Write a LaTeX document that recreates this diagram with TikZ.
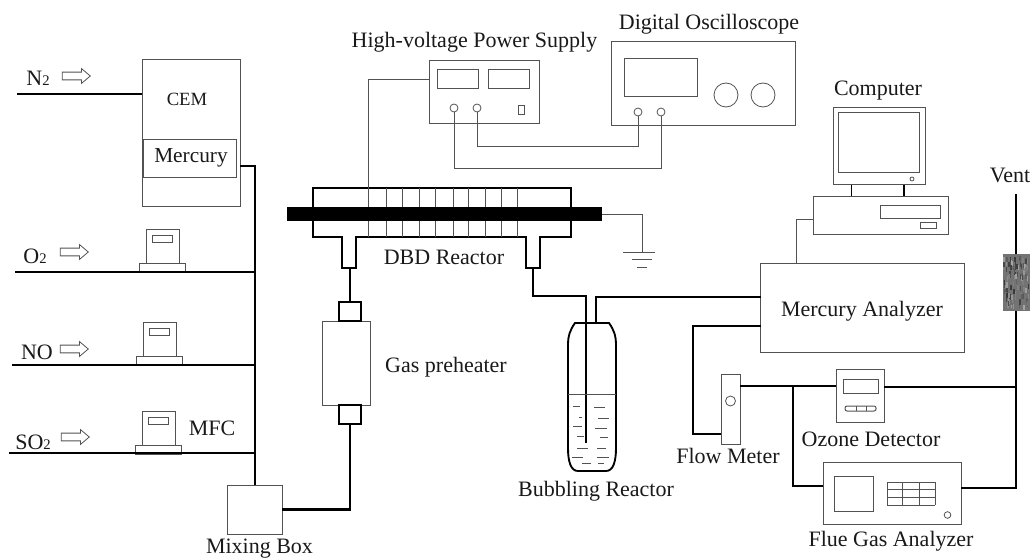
\documentclass[tikz,border=0pt]{standalone}
\usepackage{fontspec}
\setmainfont{Liberation Serif}
\usetikzlibrary{shapes.arrows}

\colorlet{edge}{black!68}
\tikzset{
  pipe/.style={line width=1.8pt,black},
  wire/.style={line width=0.75pt,edge},
  panel/.style={draw=edge,line width=0.75pt,rectangle,inner sep=0pt,outer sep=0pt},
  tube/.style={draw=black,line width=1.5pt,rectangle,inner sep=0pt,outer sep=0pt},
  dial/.style={draw=edge,line width=0.6pt,circle,inner sep=0pt,outer sep=0pt},
  gasarrow/.style={draw=edge,line width=0.6pt,single arrow,inner xsep=0pt,inner ysep=2.6pt,outer sep=0pt,
    minimum height=21pt,single arrow head extend=2.7pt,
    single arrow tip angle=80,single arrow head indent=0pt},
  tag/.style={font=\fontsize{16.5}{18}\selectfont,inner sep=0pt,text=black!90}
}
\newcommand{\unitbox}[6][panel]{%
  \node[#1,minimum width={((#5)-(#3))*0.75pt},minimum height={((#6)-(#4))*0.75pt}] (#2) at ({((#3)+(#5))/2},{((#4)+(#6))/2}) {};}
\newcommand{\subs}{\fontsize{11}{11}\selectfont 2}
% one mass flow controller: name, left of body, top of body
\newcommand{\mfcunit}[3]{%
  \unitbox{#1body}{#2}{#3}{#2+33}{#3+34}
  \unitbox{#1base}{#2-7}{#3+34}{#2+39}{#3+43}
  \unitbox{#1win}{#2+6}{#3+6.5}{#2+26}{#3+13}}

\begin{document}
\begin{tikzpicture}[x=0.75pt,y=-0.75pt]
\useasboundingbox (0,0) rectangle (1033,560);

% gas supply
\unitbox{cem}{142}{60}{240}{206}
\unitbox{mercury}{143.5}{140}{236}{178}
\mfcunit{mfcO}{146}{229}
\mfcunit{mfcN}{143.5}{322}
\mfcunit{mfcS}{142}{411}
\unitbox{mixbox}{227.5}{485}{282}{534}

\node[tag,font=\fontsize{14}{16}\selectfont] (cemtxt) at (187,99) {CEM};
\node[tag,font=\fontsize{16}{18}\selectfont] (hgtxt) at (191,158) {Mercury};
\node[tag] (n2txt) at (38,78) {N\subs};
\node[tag] (o2txt) at (35,256) {O\subs};
\node[tag] (notxt) at (37,352) {NO};
\node[tag] (so2txt) at (33,442) {SO\subs};
\node[tag] (mfctxt) at (212,428) {MFC};
\node[tag] (mixtxt) at (259.5,549) {Mixing Box};

\node[gasarrow] (arrN) at (74,76) {};
\node[gasarrow] (arrO) at (72,252) {};
\node[gasarrow] (arrNO) at (72,349) {};
\node[gasarrow] (arrS) at (73,437) {};

\coordinate (n2in) at (17,94);
\coordinate (o2in) at (15,272);
\coordinate (noin) at (12,365);
\coordinate (so2in) at (9,453);
\coordinate (busTop) at (255,166);

\draw[pipe] (n2in) -- (n2in -| cem.west);
\draw[pipe] (o2in) -- (o2in -| busTop);
\draw[pipe] (noin) -- (noin -| busTop);
\draw[pipe] (so2in) -- (so2in -| busTop);
\draw[pipe] (busTop -| cem.east) -- (busTop) -- (busTop |- mixbox.north);

% preheater
\unitbox{heater}{322}{321}{370}{405}
\unitbox[tube]{neckU}{338.5}{302}{361}{321}
\unitbox[tube]{neckD}{338.5}{405}{361}{424}
\node[tag] (heattxt) at (446,367) {Gas preheater};
\draw[pipe] (mixbox.east) -| (neckD.south);
\draw[pipe] (neckU.north) -- ++(0,-34);

% reactor
\unitbox[tube]{reactor}{313}{188}{571}{237}
\foreach \gx in {368,386,402,419,435,453,468,485,501,517}
  \draw[wire] (\gx,188) -- (\gx,237);
\draw[white,line width=2pt] (343,237) -- (355,237) (527,237) -- (539,237);
\draw[line width=1.5pt] (342,237) -- (342,268) -- (356,268) -- (356,237);
\draw[line width=1.5pt] (526,237) -- (526,268) -- (540,268) -- (540,237);
\unitbox[fill=black,draw=none,inner sep=0pt,outer sep=0pt]{bar}{287}{207}{602}{221}
\node[tag] (dbdtxt) at (444,257) {DBD Reactor};

% ground
\coordinate (gnd) at (642,252);
\draw[wire] (bar.east) -| (gnd);
\draw[wire] (623,252) -- (655,252);
\draw[wire] (632,259) -- (652,259);
\draw[wire] (637,267) -- (647,267);

% power supply
\unitbox{supply}{429}{61}{539}{123.5}
\unitbox{winA}{437}{70}{478}{89}
\unitbox{winB}{488}{70}{529.5}{89}
\unitbox{switch}{518}{106}{524}{115}
\node[dial,minimum size=6pt] (plusA) at (454,108) {};
\node[dial,minimum size=6pt] (plusB) at (477,108) {};
\node[tag] (hvtxt) at (474.5,42) {High-voltage Power Supply};

% oscilloscope
\unitbox{scope}{611}{42}{795}{126}
\unitbox{screen}{624}{59}{697}{97}
\node[dial,minimum size=18pt] (knobA) at (726,95) {};
\node[dial,minimum size=18pt] (knobB) at (763,95) {};
\node[dial,minimum size=6pt] (probeA) at (638,112) {};
\node[dial,minimum size=6pt] (probeB) at (661,112) {};
\node[tag] (osctxt) at (709,24) {Digital Oscilloscope};

\coordinate (hvdrop) at (368,188);
\coordinate (sigA) at (454,169);
\coordinate (sigB) at (477,147);
\draw[wire] (hvdrop) |- (winA.west -| supply.west);
\draw[wire] (plusA.south) -- (sigA) -| (probeB.south);
\draw[wire] (plusB.south) -- (sigB) -| (probeA.south);

% bubbler
\coordinate (portR) at (533,268);
\coordinate (inlet) at (586,443);
\coordinate (outlet) at (596,323);
\coordinate (elbow) at (533,296);
\draw[pipe] (portR) -- (elbow) -- (elbow -| inlet) -- (inlet);
\draw[line width=1.4pt] (575,323) .. controls (570,330) and (568,336) .. (568,345) -- (568,448)
  .. controls (568,462) and (571,471) .. (578,471) -- (606,471)
  .. controls (613,471) and (616,462) .. (616,448) -- (616,345)
  .. controls (616,336) and (614,330) .. (609,323) -- cycle;
\draw[wire] (568,394) -- (616,394);
\foreach \ax/\bx/\hy in {190/210/348,252/284/351,207/215/383,265/296/385,190/216/410,255/290/416,202/222/438,270/293/442,202/234/475,262/288/476,187/220/501,260/298/501,216/242/520,264/282/520}
  \draw[wire] ({510+\ax/3},{290+\hy/3}) -- ({510+\bx/3},{290+\hy/3});
\node[tag] (bubtxt) at (596,491) {Bubbling Reactor};

% analyzer and computer
\unitbox{analyzer}{760.5}{263.5}{964}{352}
\node[tag] (antxt) at (862,311) {Mercury Analyzer};
\draw[pipe] (outlet) |- (analyzer.west |- 0,297);

\unitbox{monitor}{833}{108}{925}{185}
\unitbox{display}{838.5}{112.5}{919}{173}
\node[dial,minimum size=3pt] (led) at (912,179) {};
\unitbox{tower}{813}{196}{948}{234}
\unitbox{drive}{880}{205}{940}{218}
\unitbox{slot}{920}{222}{936}{228}
\node[tag] (pctxt) at (878,91) {Computer};
\draw[line width=1pt] (851.5,185) -- (851.5,196);
\draw[line width=1pt] (904,185) -- (904,196);
\coordinate (pclink) at (796,219);
\draw[wire] (pclink -| tower.west) -- (pclink) -- (pclink |- analyzer.north);

% flow meter and detectors
\unitbox{flow}{721}{374}{740}{444}
\node[dial,minimum size=7.5pt] (float) at (730.5,401) {};
\node[tag] (flowtxt) at (728,456) {Flow Meter};
\unitbox{ozone}{836}{369}{884}{422}
\unitbox{ozwin}{843}{379}{878}{393.5}
\draw[panel,rounded corners=1.5pt] (845,406) rectangle (876,411);
\draw[wire] (856,406) -- (856,411) (866,406) -- (866,411);
\node[tag] (oztxt) at (871,439) {Ozone Detector};
\unitbox{flue}{823}{462}{961}{524}
\unitbox{fluewin}{834}{476}{873}{511}
\foreach \gy in {482,489,497,505}
  \draw[wire] (887,\gy) -- (935,\gy);
\foreach \gx in {887,902,919,935}
  \draw[wire] (\gx,482) -- (\gx,505);
\node[dial,minimum size=5pt] (fluedot) at (947.5,515) {};
\node[tag] (fluetxt) at (891,541) {Flue Gas Analyzer};

\coordinate (loopL) at (693,326);
\coordinate (tee) at (793,386);
\coordinate (vent) at (1016,194);
\coordinate (ventjoin) at (1016,387);
\coordinate (fluey) at (1016,488);
\draw[pipe] (loopL -| analyzer.west) -- (loopL) -- (693,434) -- (721,434);
\draw[pipe] (tee -| flow.east) -- (tee -| ozone.west);
\draw[pipe] (tee) -- (793,486) -- (823,486);
\draw[pipe] (ozone.east |- ventjoin) -- (ventjoin);
\draw[pipe] (fluey -| flue.east) -- (fluey) -- (vent);

% vent filter
\unitbox[fill=black!55,draw=none,inner sep=0pt,outer sep=0pt]{filter}{1002.5}{254}{1029.5}{311}
\pgfmathsetseed{7}
\foreach \n in {1,...,110}{
  \pgfmathsetmacro{\fx}{1003+rnd*25}
  \pgfmathsetmacro{\fy}{255+rnd*50}
  \pgfmathsetmacro{\fg}{int(35+rnd*45)}
  \fill[black!\fg] (\fx,\fy) rectangle ++(1.5,5);
}
\node[tag] (venttxt) at (1010,175) {Vent};
\end{tikzpicture}
\end{document}
